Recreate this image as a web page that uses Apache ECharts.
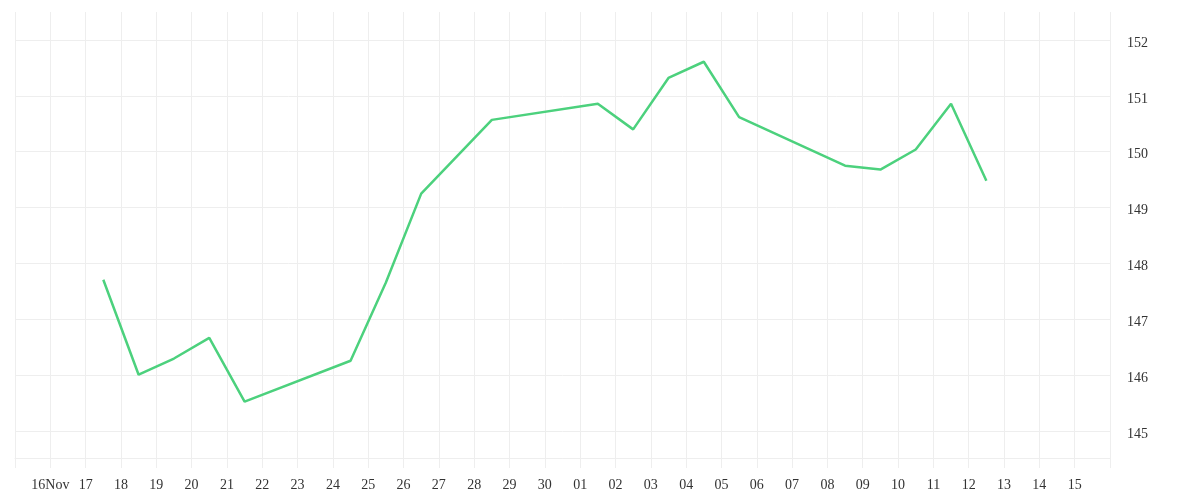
<!DOCTYPE html>
<html>
<head>
<meta charset="utf-8">
<script src="https://cdn.jsdelivr.net/npm/echarts@6/dist/echarts.min.js"></script>
<style>
html,body{margin:0;padding:0;background:#fff;}
#c{width:1200px;height:500px;}
</style>
</head>
<body>
<div id="c"></div>
<script>
const dates = ['2023-11-17','2023-11-18','2023-11-19','2023-11-20','2023-11-21','2023-11-24','2023-11-25','2023-11-26','2023-11-28','2023-12-01','2023-12-02','2023-12-03','2023-12-04','2023-12-05','2023-12-08','2023-12-09','2023-12-10','2023-12-11','2023-12-12'];
const prices = [147.71,146.01,146.30,146.67,145.53,146.26,147.66,149.25,150.57,150.86,150.40,151.32,151.61,150.62,149.75,149.68,150.04,150.86,149.48];
const axisStart = '2023-11-15';
const axisEnd = '2023-12-16';
const monthLabelDay = '2023-11-16';
const monthLabel = '16Nov';

function ts(s, h) { const p = s.split('-').map(Number); return new Date(p[0], p[1]-1, p[2], h||0).getTime(); }
const seriesData = dates.map((d, i) => [ts(d, 12), prices[i]]);
const DAY = 86400000;
const font = 'Liberation Serif';
const gridColor = '#eeeeee';
const xMin = ts(axisStart), xMax = ts(axisEnd);

const chart = echarts.init(document.getElementById('c'));
chart.setOption({
  animation: false,
  grid: {left: 15, right: 90, top: 12, bottom: 42, containLabel: false},
  xAxis: {
    type: 'time',
    min: xMin,
    max: xMax,
    minInterval: DAY,
    maxInterval: DAY,
    axisLine: {show: true, lineStyle: {color: gridColor, width: 1}},
    axisTick: {show: true, length: 10, lineStyle: {color: gridColor}},
    splitLine: {show: true, lineStyle: {color: gridColor, width: 1}},
    axisLabel: {
      margin: 20, color: '#333', fontFamily: font, fontSize: 14,
      hideOverlap: false,
      formatter: function (v) {
        if (Math.abs(v - xMin) < 3600000 || Math.abs(v - xMax) < 3600000) return '';
        const d = new Date(v);
        if (Math.abs(v - ts(monthLabelDay)) < 3600000) return monthLabel;
        return String(d.getDate()).padStart(2, '0');
      }
    }
  },
  yAxis: {
    type: 'value',
    position: 'right',
    min: 144.52,
    max: 152.5,
    splitNumber: 8,
    axisLine: {show: false},
    axisTick: {show: false},
    splitLine: {show: true, lineStyle: {color: [gridColor,gridColor,gridColor,gridColor,gridColor,gridColor,gridColor,gridColor,gridColor,'rgba(0,0,0,0)'], width: 1}},
    axisLabel: {
      showMinLabel: false, showMaxLabel: false, margin: 17,
      formatter: function (v) { return '{a|' + v + '}'; },
      rich: {a: {color: '#333', fontFamily: font, fontSize: 14, padding: [6, 0, 0, 0]}}
    }
  },
  series: [{
    type: 'line',
    data: seriesData,
    showSymbol: false,
    symbol: 'none',
    lineStyle: {color: '#4cd17d', width: 2.5},
    itemStyle: {color: '#4cd17d'}
  }]
});
</script>
</body>
</html>
